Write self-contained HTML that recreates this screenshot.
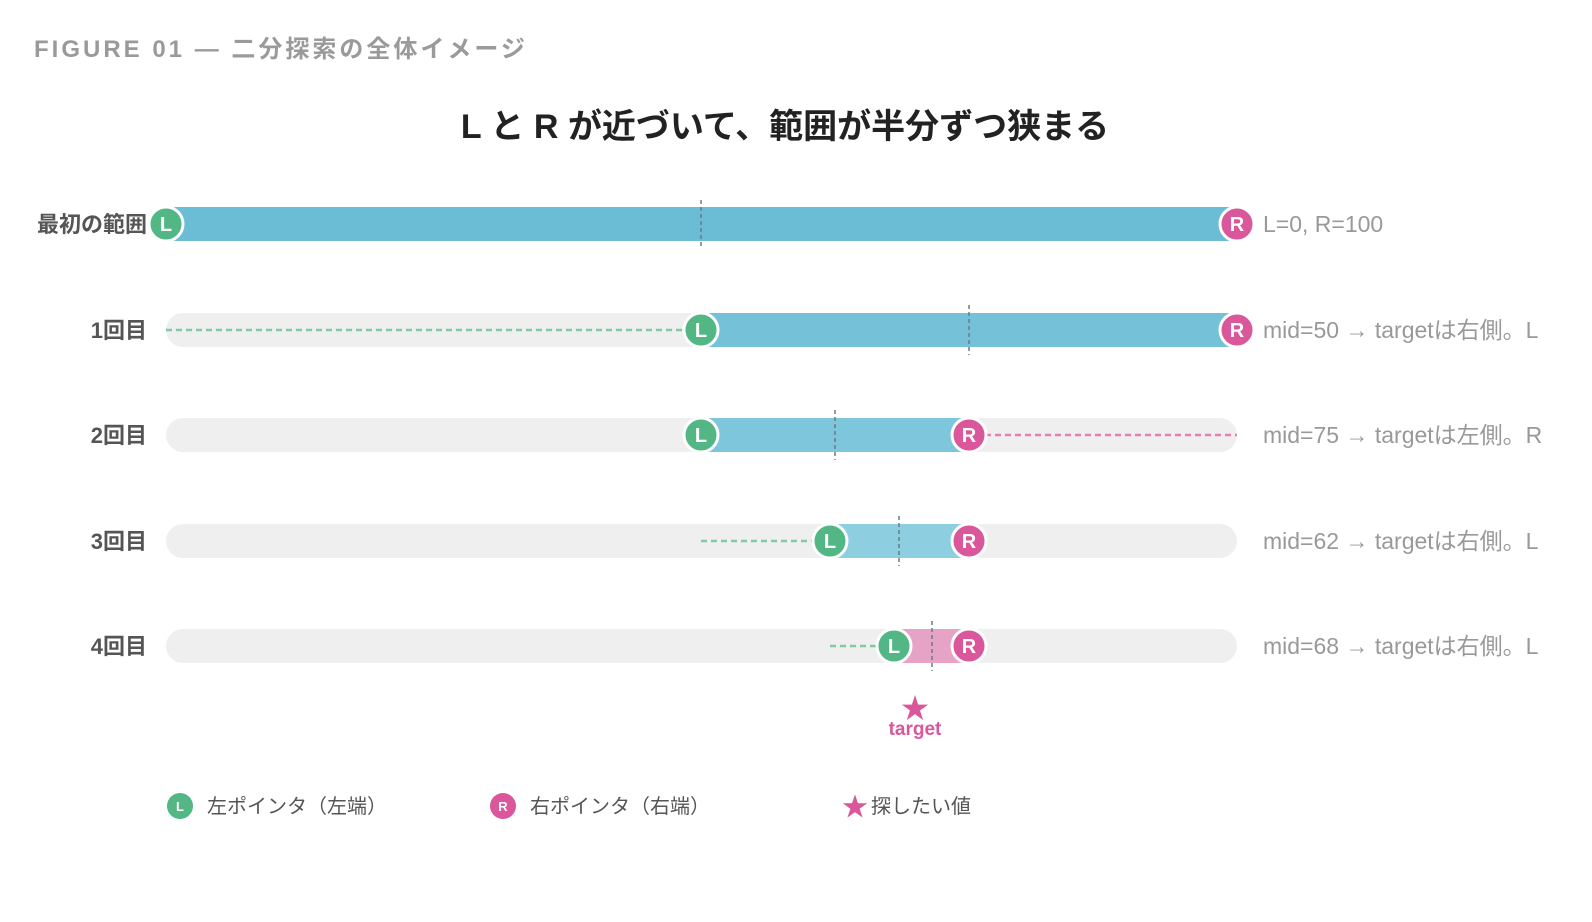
<!DOCTYPE html>
<html><head><meta charset="utf-8"><style>
html,body{margin:0;padding:0;background:#fff;}
svg{display:block;font-family:"Liberation Sans","Noto Sans CJK JP",sans-serif;}
</style></head><body>
<svg width="1592" height="922" viewBox="0 0 1592 922" xmlns="http://www.w3.org/2000/svg">
<text x="34" y="57" font-size="24" fill="#9a9a9a" font-weight="bold" letter-spacing="3">FIGURE 01 — 二分探索の全体イメージ</text>
<text x="785" y="138" font-size="34" font-weight="bold" fill="#222" text-anchor="middle">L と R が近づいて、範囲が半分ずつ狭まる</text>

<g font-size="22" font-weight="bold" fill="#555" text-anchor="end">
<text x="147" y="232">最初の範囲</text>
<text x="147" y="338">1回目</text>
<text x="147" y="443">2回目</text>
<text x="147" y="549">3回目</text>
<text x="147" y="654">4回目</text>
</g>

<g fill="#efefef">
<rect x="166" y="313" width="1071" height="34" rx="17"/>
<rect x="166" y="418" width="1071" height="34" rx="17"/>
<rect x="166" y="524" width="1071" height="34" rx="17"/>
<rect x="166" y="629" width="1071" height="34" rx="17"/>
</g>
<rect x="166" y="207" width="1071" height="34" fill="#6abdd5"/>
<rect x="701" y="313" width="536" height="34" fill="#75c2d8"/>
<rect x="701" y="418" width="268" height="34" fill="#7dc6db"/>
<rect x="830" y="524" width="139" height="34" fill="#8dcfe1"/>
<rect x="894" y="629" width="75" height="34" fill="#e6a3c5"/>

<g stroke-width="2.5" stroke-dasharray="6,4">
<line x1="166" y1="330" x2="690" y2="330" stroke="#7fcca3"/>
<line x1="985" y1="435" x2="1237" y2="435" stroke="#e680b0"/>
<line x1="701" y1="541" x2="815" y2="541" stroke="#7fcca3"/>
<line x1="830" y1="646" x2="878" y2="646" stroke="#7fcca3"/>
</g>
<g stroke="#6b7b85" stroke-width="1.5" stroke-dasharray="4,3">
<line x1="701" y1="200" x2="701" y2="249"/>
<line x1="969" y1="305" x2="969" y2="355"/>
<line x1="835" y1="410" x2="835" y2="460"/>
<line x1="899" y1="516" x2="899" y2="566"/>
<line x1="932" y1="621" x2="932" y2="671"/>
</g>

<g font-size="20" font-weight="bold" fill="#fff" text-anchor="middle" stroke-width="3">
<circle cx="166" cy="224" r="17" fill="#52b685" stroke="#fff"/><text x="166" y="231">L</text>
<circle cx="1237" cy="224" r="17" fill="#d9579a" stroke="#fff"/><text x="1237" y="231">R</text>
<circle cx="701" cy="330" r="17" fill="#52b685" stroke="#fff"/><text x="701" y="337">L</text>
<circle cx="1237" cy="330" r="17" fill="#d9579a" stroke="#fff"/><text x="1237" y="337">R</text>
<circle cx="701" cy="435" r="17" fill="#52b685" stroke="#fff"/><text x="701" y="442">L</text>
<circle cx="969" cy="435" r="17" fill="#d9579a" stroke="#fff"/><text x="969" y="442">R</text>
<circle cx="830" cy="541" r="17" fill="#52b685" stroke="#fff"/><text x="830" y="548">L</text>
<circle cx="969" cy="541" r="17" fill="#d9579a" stroke="#fff"/><text x="969" y="548">R</text>
<circle cx="894" cy="646" r="17" fill="#52b685" stroke="#fff"/><text x="894" y="653">L</text>
<circle cx="969" cy="646" r="17" fill="#d9579a" stroke="#fff"/><text x="969" y="653">R</text>
</g>

<g font-size="23" fill="#999">
<text x="1263" y="232">L=0, R=100</text>
<text x="1263" y="338">mid=50 → targetは右側。L</text>
<text x="1263" y="443">mid=75 → targetは左側。R</text>
<text x="1263" y="549">mid=62 → targetは右側。L</text>
<text x="1263" y="654">mid=68 → targetは右側。L</text>
</g>

<text x="915" y="718" font-size="28" fill="#d9579a" text-anchor="middle">★</text>
<text x="915" y="735" font-size="19" fill="#d9579a" text-anchor="middle" font-weight="bold">target</text>

<g font-size="13" font-weight="bold" fill="#fff" text-anchor="middle">
<circle cx="180" cy="806" r="13" fill="#52b685"/><text x="180" y="811">L</text>
<circle cx="503" cy="806" r="13" fill="#d9579a"/><text x="503" y="811">R</text>
</g>
<g font-size="20" fill="#555">
<text x="207" y="813">左ポインタ（左端）</text>
<text x="530" y="813">右ポインタ（右端）</text>
<text x="871" y="813">探したい値</text>
</g>
<text x="855" y="816" font-size="26" fill="#d9579a" text-anchor="middle">★</text>
</svg>
</body></html>
